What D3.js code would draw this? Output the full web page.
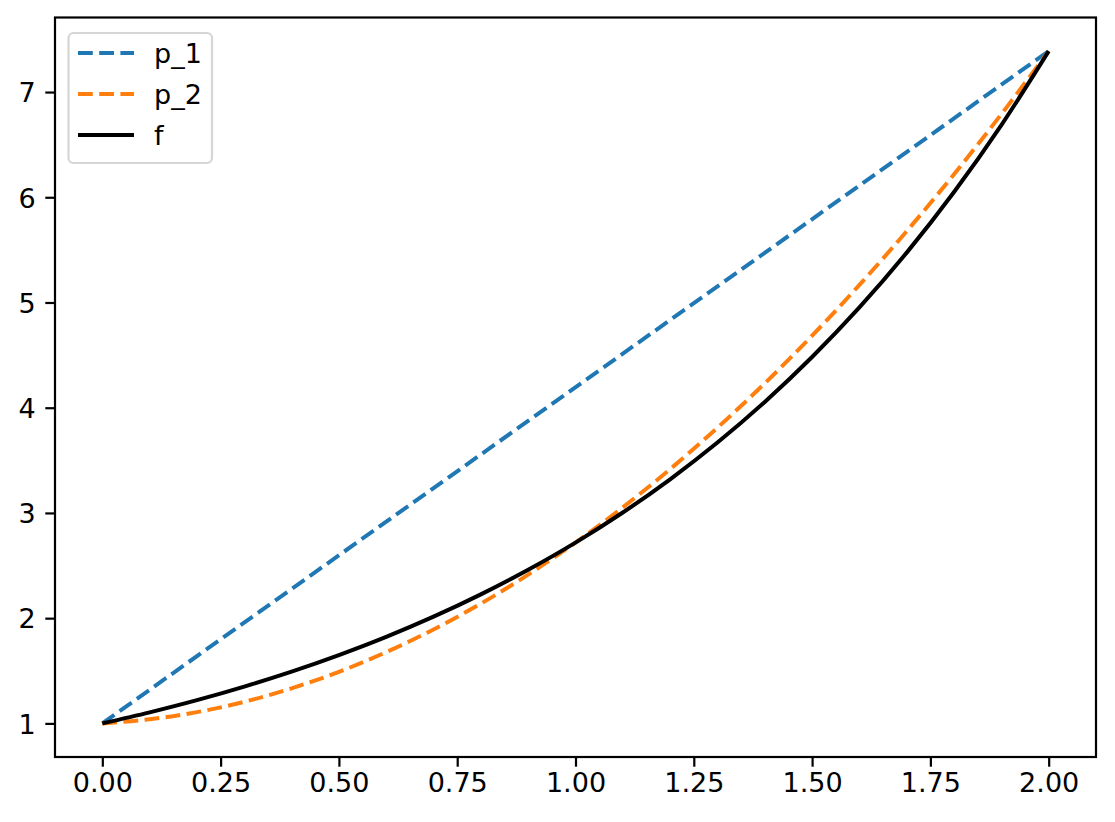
<!DOCTYPE html>
<html>
<head>
<meta charset="utf-8">
<script src="https://cdn.jsdelivr.net/npm/d3@7"></script>
<style>
  body { margin: 0; background: #fff; }
  svg { font-family: "DejaVu Sans", sans-serif; }
</style>
</head>
<body>
<svg id="chart" width="1115" height="822"></svg>
<script>
const xs = [0, 0.1, 0.2, 0.3, 0.4, 0.5, 0.6, 0.7, 0.8, 0.9, 1.0,
            1.1, 1.2, 1.3, 1.4, 1.5, 1.6, 1.7, 1.8, 1.9, 2.0];
const fVals = [1.000, 1.105, 1.221, 1.350, 1.492, 1.649, 1.822, 2.014, 2.226, 2.460, 2.718,
               3.004, 3.320, 3.669, 4.055, 4.482, 4.953, 5.474, 6.050, 6.686, 7.389];
const p2Vals = [1.000, 1.039, 1.107, 1.205, 1.333, 1.490, 1.677, 1.893, 2.138, 2.414, 2.718,
                3.053, 3.416, 3.810, 4.232, 4.685, 5.167, 5.678, 6.219, 6.790, 7.389];
const p1X = [0, 2];
const p1Vals = [1.000, 7.389];

const xTicks = [0, 0.25, 0.5, 0.75, 1.0, 1.25, 1.5, 1.75, 2.0];
const yTicks = [1, 2, 3, 4, 5, 6, 7];

const seriesNames = ["p_1", "p_2", "f"];
const seriesColors = ["#1f77b4", "#ff7f0e", "#000000"];
const seriesDash = ["14.8,6.4", "14.8,6.4", null];

function draw() {
  const svg = d3.select("#chart");
  const left = 55, right = 1096, top = 17.5, bottom = 757;
  const fontSize = 27;

  const x = d3.scaleLinear().domain([-0.1, 2.1]).range([left, right]);
  const y = d3.scaleLinear().domain([0.6805, 7.7085]).range([bottom, top]);

  svg.append("rect").attr("width", 1115).attr("height", 822).attr("fill", "#fff");

  // smooth through the sampled points
  const line = d3.line()
    .curve(d3.curveMonotoneX)
    .x((d) => x(d[0]))
    .y((d) => y(d[1]));

  const data = [
    p1X.map((v, i) => [v, p1Vals[i]]),
    xs.map((v, i) => [v, p2Vals[i]]),
    xs.map((v, i) => [v, fVals[i]]),
  ];

  svg.append("clipPath").attr("id", "clip")
    .append("rect")
    .attr("x", left).attr("y", top)
    .attr("width", right - left).attr("height", bottom - top);

  svg.append("g")
    .attr("clip-path", "url(#clip)")
    .selectAll("path")
    .data(data)
    .enter()
    .append("path")
    .attr("d", line)
    .attr("fill", "none")
    .attr("stroke", (d, i) => seriesColors[i])
    .attr("stroke-width", 4)
    .attr("stroke-dasharray", (d, i) => seriesDash[i])
    .attr("stroke-linejoin", "round");

  // x axis
  const xAxis = svg.append("g")
    .attr("transform", "translate(0," + bottom + ")")
    .call(d3.axisBottom(x).tickValues(xTicks).tickFormat(d3.format(".2f"))
      .tickSize(9.7).tickPadding(6));
  xAxis.select(".domain").remove();
  xAxis.selectAll("line").attr("stroke", "#000").attr("stroke-width", 2.2);
  xAxis.selectAll("text")
    .attr("font-size", fontSize)
    .attr("font-family", "DejaVu Sans")
    .attr("fill", "#000");

  // y axis
  const yAxis = svg.append("g")
    .attr("transform", "translate(" + left + ",0)")
    .call(d3.axisLeft(y).tickValues(yTicks).tickFormat(d3.format("d"))
      .tickSize(9.7).tickPadding(9.7));
  yAxis.select(".domain").remove();
  yAxis.selectAll("line").attr("stroke", "#000").attr("stroke-width", 2.2);
  yAxis.selectAll("text")
    .attr("font-size", fontSize)
    .attr("font-family", "DejaVu Sans")
    .attr("dy", "0.36em")
    .attr("fill", "#000");

  // frame
  svg.append("rect")
    .attr("x", left).attr("y", top)
    .attr("width", right - left).attr("height", bottom - top)
    .attr("fill", "none")
    .attr("stroke", "#000")
    .attr("stroke-width", 2.2);

  // legend
  const legend = svg.append("g");
  legend.append("rect")
    .attr("x", 68.5).attr("y", 33)
    .attr("width", 143.5).attr("height", 130)
    .attr("rx", 5)
    .attr("fill", "#fff")
    .attr("fill-opacity", 0.8)
    .attr("stroke", "#d6d6d6")
    .attr("stroke-width", 2.2);

  const item = legend.selectAll(".item")
    .data(seriesNames)
    .enter()
    .append("g")
    .attr("class", "item")
    .attr("transform", (d, i) => "translate(0," + (53 + i * 41) + ")");

  item.append("line")
    .attr("x1", 78).attr("x2", 134)
    .attr("stroke", (d, i) => seriesColors[i])
    .attr("stroke-width", 4)
    .attr("stroke-dasharray", (d, i) => seriesDash[i]);

  item.append("text")
    .attr("x", 154)
    .attr("dy", "0.36em")
    .attr("font-size", fontSize)
    .attr("fill", "#000")
    .text((d) => d);
}

draw();
</script>
</body>
</html>
